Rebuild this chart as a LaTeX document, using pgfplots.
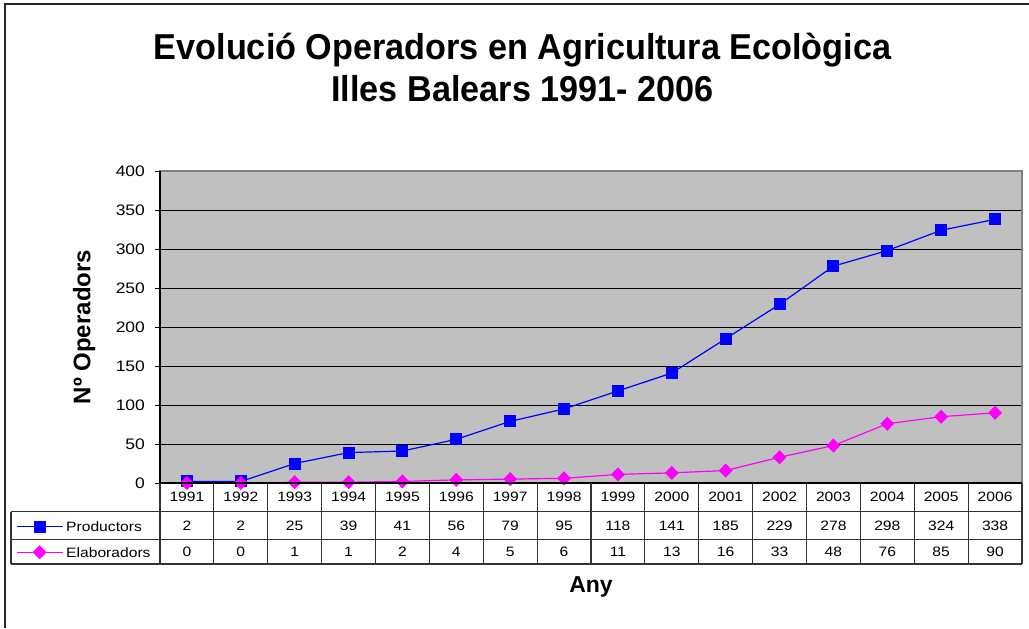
\documentclass[border=0pt]{standalone}
\usepackage{pgfplots}
\pgfplotsset{compat=1.18}
\usepackage{pgfplotstable}
\usepackage{fontspec}
\setmainfont{Liberation Sans}
\newfontfamily\titlefont[FakeStretch=0.95]{Liberation Sans}
\newfontfamily\widefont[FakeStretch=1.15]{Liberation Sans}

\definecolor{plotgray}{RGB}{192,192,192}
\definecolor{prodblue}{RGB}{0,0,255}
\definecolor{elabpink}{RGB}{255,0,255}

% operadors per any
\pgfplotstableread{
i year prod elab
0 1991 2 0
1 1992 2 0
2 1993 25 1
3 1994 39 1
4 1995 41 2
5 1996 56 4
6 1997 79 5
7 1998 95 6
8 1999 118 11
9 2000 141 13
10 2001 185 16
11 2002 229 33
12 2003 278 48
13 2004 298 76
14 2005 324 85
15 2006 338 90
}\operadors

\begin{document}
\begin{tikzpicture}
\useasboundingbox (-80pt,-72.5pt) rectangle (434.5pt,241.5pt);
% marc exterior
\draw[line width=0.8pt, black!85] (-77.5pt,-72.5pt) -- (-77.5pt,239.5pt) -- (434.5pt,239.5pt);

\begin{axis}[
    at={(0pt,0pt)}, anchor=south west,
    width=431pt, height=156pt, scale only axis,
    xmin=-0.5, xmax=15.5, ymin=0, ymax=400,
    ytick={0,50,...,400},
    xtick=\empty,
    ymajorgrids,
    grid style={black, line width=0.5pt},
    axis background/.style={fill=plotgray},
    axis line style={draw=black!50, line width=0.6pt},
    ytick pos=left, tick align=outside, major tick length=2.5pt,
    tick style={black, line width=0.5pt},
    /pgf/number format/assume math mode=true,
    yticklabel style={font=\widefont\fontsize{7.6}{8}\selectfont, xshift=-1.5pt},
    clip=false,
    title={Evolució Operadors en Agricultura Ecològica\\Illes Balears 1991- 2006},
    title style={font=\titlefont\bfseries\fontsize{18}{21}\selectfont, align=center,
        at={(axis description cs:0.4206,1.292)}, anchor=center},
    ylabel={Nº Operadors},
    ylabel style={font=\bfseries\fontsize{12}{14}\selectfont,
        at={(axis description cs:-0.088,0.5)}, anchor=center, rotate=0},
    xlabel={Any},
    xlabel style={font=\bfseries\fontsize{11.5}{13}\selectfont,
        at={(axis description cs:0.5,-0.333)}, anchor=center},
    legend style={draw=none, fill=none, inner sep=0pt,
        at={(axis description cs:-0.1675,-0.113)}, anchor=north west,
        font=\widefont\fontsize{6.8}{8}\selectfont,
        row sep=4.8pt,
        nodes={inner sep=1.5pt, text height=5pt, text depth=0pt}},
    legend cell align=left,
    legend image code/.code={
        \draw[mark repeat=2, mark phase=2, #1] plot coordinates {(0pt,0pt) (11.5pt,0pt) (23pt,0pt)};
    },
    nodes near coords style={font=\widefont\fontsize{6.8}{8}\selectfont, text=black},
]
\addplot[prodblue, line width=0.6pt, mark=square*, mark size=2.7pt,
    mark options={fill=prodblue, draw=prodblue}]
    table[x=i, y=prod] {\operadors};
\addlegendentry{Productors}
\addplot[elabpink, line width=0.6pt, mark=diamond*, mark size=3.1pt,
    mark options={fill=elabpink, draw=elabpink, xscale=1.3}]
    table[x=i, y=elab] {\operadors};
\addlegendentry{Elaboradors}

% taula de dades
\addplot[draw=none, mark=none, forget plot, point meta=explicit symbolic,
    nodes near coords, nodes near coords align=center]
    table[x=i, y expr=-17.9, meta=year] {\operadors};
\addplot[draw=none, mark=none, forget plot, point meta=explicit symbolic,
    nodes near coords, nodes near coords align=center]
    table[x=i, y expr=-54.5, meta=prod] {\operadors};
\addplot[draw=none, mark=none, forget plot, point meta=explicit symbolic,
    nodes near coords, nodes near coords align=center]
    table[x=i, y expr=-88.1, meta=elab] {\operadors};
\end{axis}

% eixos i linies de la taula
\draw[black, line width=0.6pt] (0pt,156pt) -- (0pt,0pt) -- (431pt,0pt);
\draw[black!80, line width=0.6pt] (-74.5pt,-14.25pt) -- (431pt,-14.25pt)
    (-74.5pt,-28.25pt) -- (431pt,-28.25pt)
    (-74.5pt,-40.5pt) -- (431pt,-40.5pt)
    (-74.5pt,-14.25pt) -- (-74.5pt,-40.5pt);
\foreach \k in {0,...,16} \draw[black!80, line width=0.6pt] ({26.9375*\k pt},0pt) -- ++(0pt,-40.5pt);
\end{tikzpicture}
\end{document}
